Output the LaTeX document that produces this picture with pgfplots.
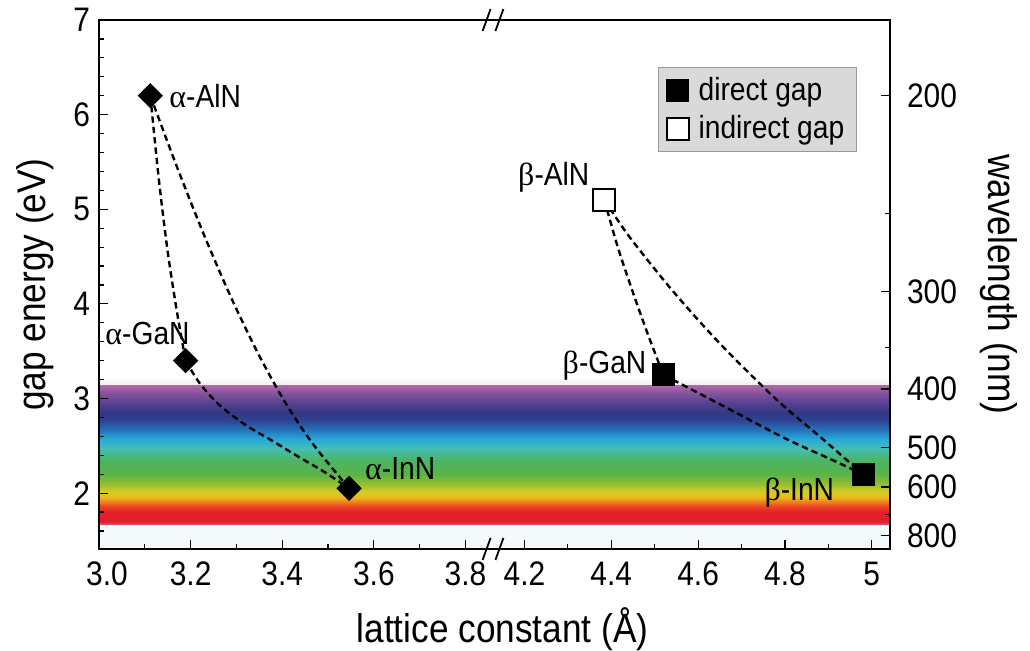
\documentclass[border=0pt]{standalone}
\usepackage{pgfplots}
\pgfplotsset{compat=1.18}
\usepackage{fontspec}
\setmainfont{Liberation Sans}[FakeStretch=0.88]
\newfontfamily\greek{Liberation Serif}
\definecolor{c01}{RGB}{225,80,110}
\definecolor{c02}{RGB}{222,32,45}
\definecolor{c03}{RGB}{228,30,40}
\definecolor{c04}{RGB}{235,70,35}
\definecolor{c05}{RGB}{240,130,30}
\definecolor{c06}{RGB}{235,190,30}
\definecolor{c07}{RGB}{210,205,35}
\definecolor{c08}{RGB}{150,190,50}
\definecolor{c09}{RGB}{90,180,70}
\definecolor{c10}{RGB}{75,180,100}
\definecolor{c11}{RGB}{70,190,180}
\definecolor{c12}{RGB}{40,170,215}
\definecolor{c13}{RGB}{35,120,190}
\definecolor{c14}{RGB}{45,70,150}
\definecolor{c15}{RGB}{50,55,130}
\definecolor{c16}{RGB}{85,65,145}
\definecolor{c17}{RGB}{130,80,155}
\definecolor{c18}{RGB}{175,105,170}
\definecolor{legbg}{RGB}{217,217,217}
\definecolor{lowbg}{RGB}{244,250,252}
\definecolor{topbg}{RGB}{248,232,240}
\pgfdeclareverticalshading{spectrum}{100bp}{color(0bp)=(c01); color(25bp)=(c01); color(26bp)=(c02); color(29.4bp)=(c03); color(31.5bp)=(c04); color(33.2bp)=(c05); color(34.9bp)=(c06); color(36.9bp)=(c07); color(39.6bp)=(c08); color(43bp)=(c09); color(48.1bp)=(c10); color(52.2bp)=(c11); color(55.6bp)=(c12); color(58.7bp)=(c13); color(62.1bp)=(c14); color(65.1bp)=(c15); color(68.5bp)=(c16); color(71.9bp)=(c17); color(75bp)=(c18); color(100bp)=(c18)}
\begin{document}
\begin{tikzpicture}
\useasboundingbox (-49.5pt,-51pt) rectangle (465.5pt,274.5pt);
\begin{axis}[
  at={(0,0)}, anchor=south west,
  width=395.5pt, height=264.5pt, scale only axis,
  x coord trafo/.code={\pgfmathparse{(#1<4)*((#1-3)*458+99)+(#1>=4)*((#1-4.2)*434+524.3)}},
  xmin=3.0, xmax=5.042, ymin=1.41, ymax=7,
  axis on top, clip mode=individual,
  tick align=inside, xtick pos=bottom, ytick pos=left,
  major tick length=4.5pt, minor tick length=2.5pt,
  every tick/.style={black, line width=0.6pt},
  axis line style={line width=0.8pt},
  xtick={3.0,3.2,3.4,3.6,3.8,4.2,4.4,4.6,4.8,5.0},
  xticklabels={\hspace*{8pt}3.0,3.2,3.4,3.6,3.8,4.2,4.4,4.6,4.8,5},
  minor xtick={3.1,3.3,3.5,3.7,4.3,4.5,4.7,4.9},
  ytick={2,3,4,5,6,7}, yticklabels={2,3,4,5,6,7},
  minor ytick={1.6,1.8,2.2,2.4,2.6,2.8,3.2,3.4,3.6,3.8,4.2,4.4,4.6,4.8,5.2,5.4,5.6,5.8,6.2,6.4,6.6,6.8},
  tick label style={font=\fontsize{17}{20}\selectfont},
  xticklabel style={yshift=-3pt},
  yticklabel style={xshift=-1pt},
  label style={font=\fontsize{20}{24}\selectfont},
  xlabel={lattice constant (Å)},
  xlabel style={yshift=-4pt, xshift=4pt},
  ylabel={gap energy (eV)},
  ylabel style={yshift=3pt},
  legend style={at={(0.707,0.911)}, anchor=north west, fill=legbg, draw=gray!80,
    font=\fontsize{16}{19}\selectfont, row sep=2pt, inner xsep=4pt, inner ysep=3pt},
  legend cell align=left,
]
% background band (visible spectrum)
\fill[lowbg] (axis cs:3.0,1.41) rectangle (axis cs:5.042,1.67);
\shade[top color=white, bottom color=topbg] (axis cs:3.0,3.14) rectangle (axis cs:5.042,3.22);
\shade[shading=spectrum] (axis cs:3.0,1.67) rectangle (axis cs:5.042,3.14);
% dashed connecting curves
\addplot[forget plot, black, line width=1.2pt, dash pattern=on 3.2pt off 2pt, smooth] coordinates {(3.112,6.2) (3.131,5.30) (3.150,4.55) (3.170,3.92) (3.189,3.40)};
\addplot[forget plot, black, line width=1.2pt, dash pattern=on 3.2pt off 2pt, smooth] coordinates {(3.112,6.2) (3.17,5.45) (3.23,4.72) (3.29,4.05) (3.35,3.45) (3.41,2.93) (3.47,2.50) (3.546,2.05)};
\addplot[forget plot, black, line width=1.2pt, dash pattern=on 3.2pt off 2pt, smooth] coordinates {(3.189,3.40) (3.22,3.16) (3.263,2.93) (3.32,2.72) (3.376,2.56) (3.43,2.40) (3.49,2.23) (3.546,2.05)};
\addplot[forget plot, black, line width=1.2pt, dash pattern=on 3.2pt off 2pt, smooth] coordinates {(4.384,5.1) (4.415,4.6) (4.45,4.12) (4.485,3.67) (4.52,3.25)};
\addplot[forget plot, black, line width=1.2pt, dash pattern=on 3.2pt off 2pt, smooth] coordinates {(4.384,5.1) (4.44,4.72) (4.53,4.2) (4.61,3.78) (4.68,3.44) (4.785,2.97) (4.88,2.6) (4.935,2.38) (4.98,2.2)};
\addplot[forget plot, black, line width=1.2pt, dash pattern=on 3.2pt off 2pt, smooth] coordinates {(4.52,3.25) (4.65,2.94) (4.80,2.58) (4.90,2.37) (4.98,2.2)};
% markers
\addplot[forget plot, only marks, mark=square*, mark size=4.25pt, mark options={rotate=45, fill=black, draw=black}] coordinates {(3.112,6.2) (3.189,3.4) (3.546,2.05)};
\addplot[only marks, mark=square*, mark size=5.5pt, mark options={fill=black, draw=black}] coordinates {(4.52,3.25) (4.98,2.2)};
\addlegendentry{\hspace*{3pt}direct gap}
\addplot[only marks, mark=square*, mark size=5.5pt, mark options={fill=white, draw=black, line width=1pt}] coordinates {(4.384,5.1)};
\addlegendentry{\hspace*{3pt}indirect gap}
% labels
\begin{scope}[font=\fontsize{16}{19}\selectfont]
\node[anchor=west] at ([xshift=6pt]axis cs:3.112,6.2) {{\greek α}-AlN};
\node[anchor=east] at ([xshift=5.5pt,yshift=13.5pt]axis cs:3.189,3.4) {{\greek α}-GaN};
\node[anchor=west] at ([xshift=4.5pt,yshift=10pt]axis cs:3.546,2.05) {{\greek α}-InN};
\node[anchor=east] at ([xshift=-4pt,yshift=11pt]axis cs:4.384,5.1) {{\greek β}-AlN};
\node[anchor=east] at ([xshift=-5pt,yshift=4.5pt]axis cs:4.52,3.25) {{\greek β}-GaN};
\node[anchor=east] at ([xshift=-11pt,yshift=-9pt]axis cs:4.98,2.2) {{\greek β}-InN};
\end{scope}
% axis break marks (top)
\fill[white] ([xshift=-3.2pt,yshift=-1pt]axis cs:3.860,7) rectangle ([xshift=3.2pt,yshift=1pt]axis cs:3.860,7);
\draw[line width=0.9pt] ([xshift=-5.2pt,yshift=-5.5pt]axis cs:3.860,7) -- ([xshift=-1.2pt,yshift=5.5pt]axis cs:3.860,7);
\draw[line width=0.9pt] ([xshift=1.2pt,yshift=-5.5pt]axis cs:3.860,7) -- ([xshift=5.2pt,yshift=5.5pt]axis cs:3.860,7);
% axis break marks (bottom)
\fill[white] ([xshift=-3.2pt,yshift=-1pt]axis cs:3.860,1.41) rectangle ([xshift=3.2pt,yshift=1pt]axis cs:3.860,1.41);
\draw[line width=0.9pt] ([xshift=-5.2pt,yshift=-5.5pt]axis cs:3.860,1.41) -- ([xshift=-1.2pt,yshift=5.5pt]axis cs:3.860,1.41);
\draw[line width=0.9pt] ([xshift=1.2pt,yshift=-5.5pt]axis cs:3.860,1.41) -- ([xshift=5.2pt,yshift=5.5pt]axis cs:3.860,1.41);
\end{axis}
\begin{axis}[
  at={(0,0)}, anchor=south west,
  width=395.5pt, height=264.5pt, scale only axis,
  xmin=0, xmax=1, ymin=1.41, ymax=7,
  axis x line=none, axis y line*=right,
  tick align=inside,
  major tick length=4.5pt, minor tick length=2.5pt,
  every tick/.style={black, line width=0.6pt},
  axis line style={line width=0.8pt},
  ytick={6.199,4.133,3.100,2.480,2.066,1.550},
  yticklabels={200,300,400,500,600,800},
  minor ytick={4.959,3.542,1.771},
  tick label style={font=\fontsize{17}{20}\selectfont},
  yticklabel style={xshift=5pt},
  label style={font=\fontsize{20}{24}\selectfont},
  ylabel={wavelength (nm)},
  ylabel style={rotate=180, yshift=4.5pt},
]
\end{axis}
\end{tikzpicture}
\end{document}
